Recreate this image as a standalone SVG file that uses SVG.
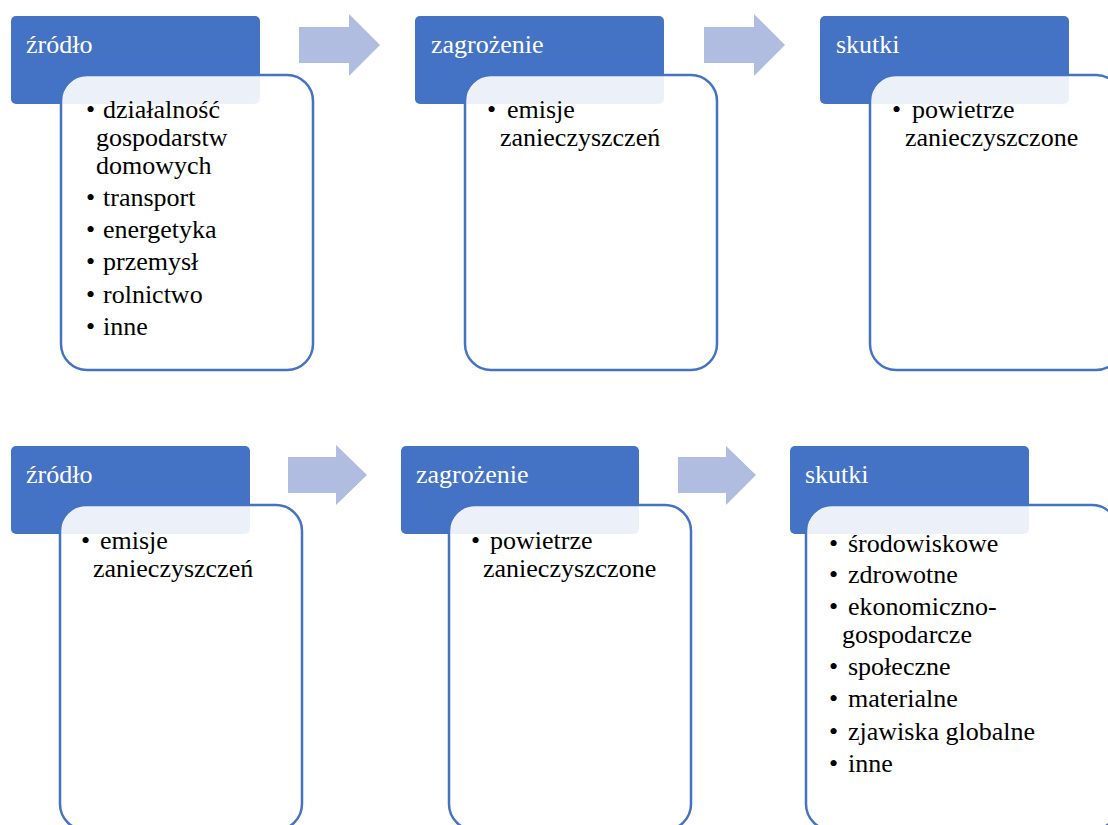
<svg xmlns="http://www.w3.org/2000/svg" width="1108" height="825" viewBox="0 0 1108 825">
  <style>
    .hdr { fill: #4472C4; }
    .body { fill: #FFFFFF; fill-opacity: 0.9; stroke: #4472C4; stroke-width: 2.5; }
    .arrow { fill: #B0BDE0; }
    text { font-family: 'Times New Roman', 'Liberation Serif', Times, 'DejaVu Serif', serif; font-size: 26px; }
    .htxt { fill: #FFFFFF; }
    .btxt { fill: #000000; }
  </style>
  <rect width="1108" height="825" fill="#FFFFFF"/>

  <!-- flow arrows between stages -->
  <g id="connectors">
    <polygon class="arrow" points="299,27 349,27 349,14 380,45 349,76 349,63 299,63"/>
    <polygon class="arrow" points="704,27 754,27 754,14 785,45 754,76 754,63 704,63"/>
    <polygon class="arrow" points="288,457 336,457 336,445 367,475 336,505 336,493 288,493"/>
    <polygon class="arrow" points="678,457 726,457 726,446 756,475 726,505 726,493 678,493"/>
  </g>

  <!-- row 1 -->
  <g id="r1-zrodlo">
    <rect class="hdr" x="11" y="16" width="249" height="88" rx="5"/>
    <text class="htxt" x="26" y="53">źródło</text>
    <rect class="body" x="61" y="75" width="252" height="295" rx="26"/>
    <g class="btxt">
      <text x="86" y="118">•</text><text x="103" y="118">działalność</text>
      <text x="96" y="146">gospodarstw</text>
      <text x="96" y="174">domowych</text>
      <text x="86" y="206">•</text><text x="103" y="206">transport</text>
      <text x="86" y="238">•</text><text x="103" y="238">energetyka</text>
      <text x="86" y="270">•</text><text x="103" y="270">przemysł</text>
      <text x="86" y="303">•</text><text x="103" y="303">rolnictwo</text>
      <text x="86" y="335">•</text><text x="103" y="335">inne</text>
    </g>
  </g>

  <g id="r1-zagrozenie">
    <rect class="hdr" x="415" y="16" width="249" height="88" rx="5"/>
    <text class="htxt" x="431" y="53">zagrożenie</text>
    <rect class="body" x="465" y="75" width="252" height="295" rx="26"/>
    <g class="btxt">
      <text x="487" y="118">•</text><text x="507" y="118">emisje</text>
      <text x="500" y="146">zanieczyszczeń</text>
    </g>
  </g>

  <g id="r1-skutki">
    <rect class="hdr" x="820" y="16" width="249" height="88" rx="5"/>
    <text class="htxt" x="836" y="53">skutki</text>
    <rect class="body" x="870" y="75" width="252" height="295" rx="26"/>
    <g class="btxt">
      <text x="892" y="118">•</text><text x="912" y="118">powietrze</text>
      <text x="905" y="146">zanieczyszczone</text>
    </g>
  </g>

  <!-- row 2 -->
  <g id="r2-zrodlo">
    <rect class="hdr" x="11" y="446" width="239" height="88" rx="5"/>
    <text class="htxt" x="26" y="483">źródło</text>
    <rect class="body" x="60" y="505" width="242" height="325" rx="26"/>
    <g class="btxt">
      <text x="81" y="549">•</text><text x="100" y="549">emisje</text>
      <text x="93" y="577">zanieczyszczeń</text>
    </g>
  </g>

  <g id="r2-zagrozenie">
    <rect class="hdr" x="401" y="446" width="238" height="88" rx="5"/>
    <text class="htxt" x="416" y="483">zagrożenie</text>
    <rect class="body" x="449" y="505" width="242" height="325" rx="26"/>
    <g class="btxt">
      <text x="471" y="549">•</text><text x="490" y="549">powietrze</text>
      <text x="483" y="577">zanieczyszczone</text>
    </g>
  </g>

  <g id="r2-skutki">
    <rect class="hdr" x="790" y="446" width="239" height="88" rx="5"/>
    <text class="htxt" x="805" y="483">skutki</text>
    <rect class="body" x="806" y="505" width="312" height="325" rx="26"/>
    <g class="btxt">
      <text x="829" y="552">•</text><text x="848" y="552">środowiskowe</text>
      <text x="829" y="583">•</text><text x="848" y="583">zdrowotne</text>
      <text x="829" y="615">•</text><text x="848" y="615">ekonomiczno-</text>
      <text x="842" y="643">gospodarcze</text>
      <text x="829" y="675">•</text><text x="848" y="675">społeczne</text>
      <text x="829" y="707">•</text><text x="848" y="707">materialne</text>
      <text x="829" y="740">•</text><text x="848" y="740">zjawiska globalne</text>
      <text x="829" y="772">•</text><text x="848" y="772">inne</text>
    </g>
  </g>
</svg>
